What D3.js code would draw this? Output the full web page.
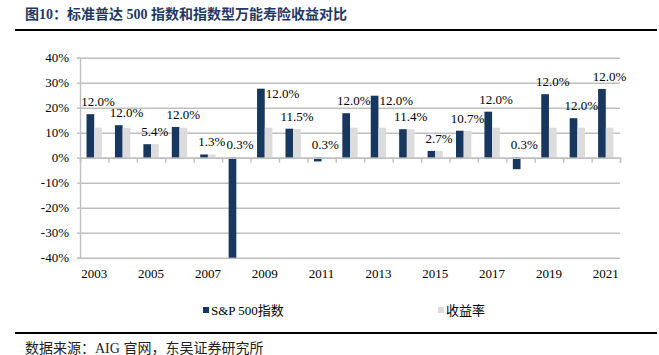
<!DOCTYPE html>
<html>
<head>
<meta charset="utf-8">
<script src="https://cdn.jsdelivr.net/npm/d3@7/dist/d3.min.js"></script>
<style>
  html, body { margin: 0; padding: 0; background: #fff; }
  svg { display: block; }
  svg text { font-family: "Liberation Serif", "Times New Roman", Tinos, "DejaVu Serif", "Noto Sans CJK SC", serif !important; }
</style>
</head>
<body>
<svg id="chart" width="659" height="355"></svg>
<script>
// ---- data ----
const years = ["2003","2004","2005","2006","2007","2008","2009","2010","2011","2012",
               "2013","2014","2015","2016","2017","2018","2019","2020","2021"];
const sp500 = [17.4, 13.0, 5.4, 12.3, 1.3, -40.0, 27.6, 11.6, -1.5, 17.8,
               24.8, 11.4, 2.7, 10.8, 18.4, -4.6, 25.4, 15.8, 27.5];
const yieldRate = [12.0, 12.0, 5.4, 12.0, 1.3, 0.3, 12.0, 11.5, 0.3, 12.0,
                   12.0, 11.4, 2.7, 10.7, 12.0, 0.3, 12.0, 12.0, 12.0];
const yTicks = [-40, -30, -20, -10, 0, 10, 20, 30, 40];
const yearLabels = ["2003","2005","2007","2009","2011","2013","2015","2017","2019","2021"];
const seriesNames = ["S&P 500指数", "收益率"];
const titleText = "图10：标准普达 500 指数和指数型万能寿险收益对比";
const sourceText = "数据来源：AIG 官网，东吴证券研究所";
// labels that sit beside the dark bar rather than above it
const labelsBeside = ["2009", "2013"];

// ---- layout ----
const colors = ["#17375e", "#dcdcdc"];
const gridColor = "#bfbfbf";
const svg = d3.select("#chart");

const x = d3.scaleBand().domain(years).range([80, 620]).padding(0);
const xi = d3.scaleLinear().domain([0, years.length]).range([80, 620]);
const y = d3.scaleLinear().domain([-40, 40]).range([257.7, 57.7]);
const barW = x.bandwidth() * 0.27;

// title
svg.append("text").attr("x", 25).attr("y", 19)
  .attr("font-size", 14).attr("font-weight", "bold").attr("fill", "#1f3864")
  .text(titleText);
svg.append("line").attr("x1", 15).attr("x2", 657).attr("y1", 30).attr("y2", 30)
  .attr("stroke", "#000").attr("stroke-width", 2);

// gridlines
svg.append("g").attr("transform", "translate(80,0)")
  .call(d3.axisLeft(y).tickValues(yTicks).tickSize(-540).tickFormat(""))
  .call(g => g.select(".domain").remove())
  .call(g => g.selectAll("line").attr("stroke", gridColor).attr("stroke-width", 1.4));

// y axis
svg.append("g").attr("transform", "translate(80,0)")
  .call(d3.axisLeft(y).tickValues(yTicks).tickSize(3).tickPadding(8)
        .tickFormat(d => d + "%"))
  .call(g => g.select(".domain").attr("stroke", gridColor).attr("stroke-width", 1.4))
  .call(g => g.selectAll("line").attr("stroke", gridColor).attr("stroke-width", 1.4))
  .call(g => g.selectAll("text").attr("font-size", 13).attr("fill", "#000"));

// bars
const bars = svg.append("g");
years.forEach((yr, i) => {
  const cx = x(yr) + x.bandwidth() / 2;
  const v1 = sp500[i], v2 = yieldRate[i];
  bars.append("rect").attr("x", cx - barW).attr("width", barW)
    .attr("y", y(Math.max(0, v1))).attr("height", Math.abs(y(v1) - y(0)))
    .attr("fill", colors[0]);
  bars.append("rect").attr("x", cx).attr("width", barW)
    .attr("y", y(Math.max(0, v2))).attr("height", Math.abs(y(v2) - y(0)))
    .attr("fill", colors[1]);
});

// x axis line at 0 with boundary ticks
svg.append("g").attr("transform", `translate(0,${y(0)})`)
  .call(d3.axisBottom(xi).tickValues(d3.range(years.length + 1)).tickSize(5).tickFormat(""))
  .call(g => g.select(".domain").attr("stroke", gridColor).attr("stroke-width", 1.4))
  .call(g => g.selectAll("line").attr("stroke", gridColor).attr("stroke-width", 1.4));

// year labels at bottom
svg.append("g").attr("transform", `translate(0,${y(-40)})`)
  .call(d3.axisBottom(x).tickValues(yearLabels).tickSize(0).tickPadding(11))
  .call(g => g.select(".domain").remove())
  .call(g => g.selectAll("text").attr("font-size", 13).attr("fill", "#000"));

// data labels for 收益率
const labels = svg.append("g").attr("font-size", 13).attr("fill", "#000");
years.forEach((yr, i) => {
  const cx = x(yr) + x.bandwidth() / 2;
  const v1 = sp500[i], v2 = yieldRate[i];
  const txt = v2.toFixed(1) + "%";
  if (labelsBeside.includes(yr)) {
    labels.append("text").attr("x", cx + 1).attr("y", y(v1) + 9)
      .attr("text-anchor", "start").text(txt);
  } else {
    const top = y(Math.max(v1, v2, 0));
    labels.append("text").attr("x", cx + barW / 2).attr("y", top - 8)
      .attr("text-anchor", "middle").text(txt);
  }
});

// legend
const legend = svg.append("g").attr("font-size", 13).attr("fill", "#000");
const legendX = [203, 438];
seriesNames.forEach((name, i) => {
  legend.append("rect").attr("x", legendX[i]).attr("y", 307).attr("width", 6).attr("height", 6)
    .attr("fill", colors[i]);
  legend.append("text").attr("x", legendX[i] + 8).attr("y", 314.5).text(name);
});

// bottom rule and source
svg.append("line").attr("x1", 15).attr("x2", 657).attr("y1", 333).attr("y2", 333)
  .attr("stroke", "#000").attr("stroke-width", 2);
svg.append("text").attr("x", 25).attr("y", 353)
  .attr("font-size", 14).attr("fill", "#222").text(sourceText);
</script>
</body>
</html>
